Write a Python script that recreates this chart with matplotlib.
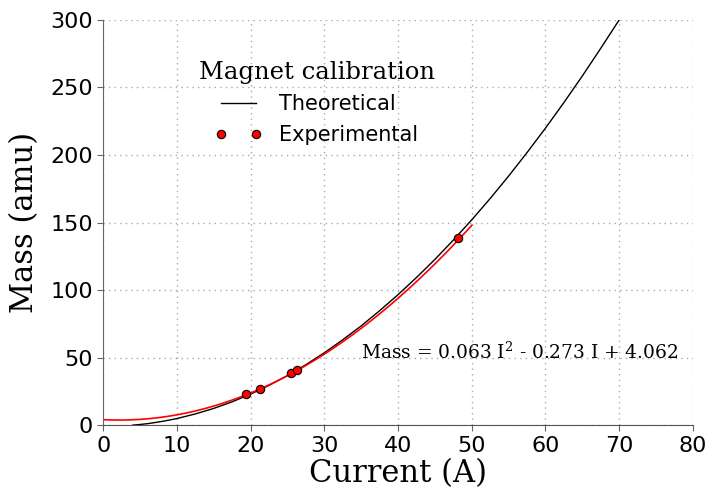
import numpy as np
import matplotlib
matplotlib.use('Agg')
from matplotlib import pyplot as plt

# theoretical curve, values
theory_current = [4, 5, 6, 7, 8, 9, 10, 12.5, 15, 17.5, 20, 22.5, 25, 27.5, 30, 32.5, 35, 37.5,
                  40, 42.5, 45, 47.5, 50, 52.5, 55, 57.5, 60, 62.5, 65, 67.5, 70]
theory_mass = [0, 0.5, 1.1, 1.9, 2.8, 3.8, 4.9, 8.3, 12.4, 17.3, 23.0, 29.5, 36.7, 44.8, 53.6,
               63.2, 73.5, 84.7, 96.6, 109.3, 122.7, 137.0, 152.0, 167.8, 184.4, 201.8,
               219.9, 238.8, 258.5, 279.0, 300]

# measured points
exp_current = [19.4, 21.3, 25.5, 26.3, 48.2]
exp_mass = [23.0, 26.4, 38.7, 40.5, 138.8]

# fit coefficients as printed on the chart
fit_coef = [0.063, -0.273, 4.062]
fit_range = [0, 50]

plt.rcParams['mathtext.fontset'] = 'dejavuserif'

fig = plt.figure(figsize=(7.07, 4.99), dpi=100)
ax = fig.add_axes([0.146, 0.148, 0.834, 0.812])

ax.plot(theory_current, theory_mass, color='black', lw=1.0, label='Theoretical')
fit_x = np.linspace(fit_range[0], fit_range[1], 200)
ax.plot(fit_x, np.polyval(fit_coef, fit_x), color='red', lw=1.2)
ax.plot(exp_current, exp_mass, 'o', color='red', mec='black', mew=0.8, ms=6,
        label='Experimental')

ax.set_xlim(0, 80)
ax.set_ylim(0, 300)
ax.set_xticks(range(0, 81, 10))
ax.set_yticks(range(0, 301, 50))
ax.grid(True, ls=(0, (1, 3)), color='#aaaaaa', lw=1)

for side in ['top', 'right']:
    ax.spines[side].set_visible(False)
ax.spines['left'].set_color('#666666')
ax.spines['bottom'].set_color('#555555')
ax.spines['bottom'].set_linestyle((0, (3, 1)))
ax.tick_params(direction='out', length=4, color='#666666', labelsize=16,
               top=False, right=False)

ax.set_xlabel('Current (A)', family='DejaVu Serif', fontsize=22, labelpad=2)
ax.set_ylabel('Mass (amu)', family='DejaVu Serif', fontsize=22, labelpad=7)

ax.text(35, 49, 'Mass = 0.063 I$^{\\mathregular{2}}$ - 0.273 I + 4.062', family='DejaVu Serif',
        fontsize=13.4, va='baseline')

leg = ax.legend(loc='upper left', bbox_to_anchor=(0.13, 0.945), frameon=False,
                numpoints=2, fontsize=15, title='Magnet calibration',
                handlelength=2.3, labelspacing=0.5)
leg.get_title().set_fontfamily('DejaVu Serif')
leg.get_title().set_fontsize(17.5)

fig.savefig('out.png', dpi=100)
